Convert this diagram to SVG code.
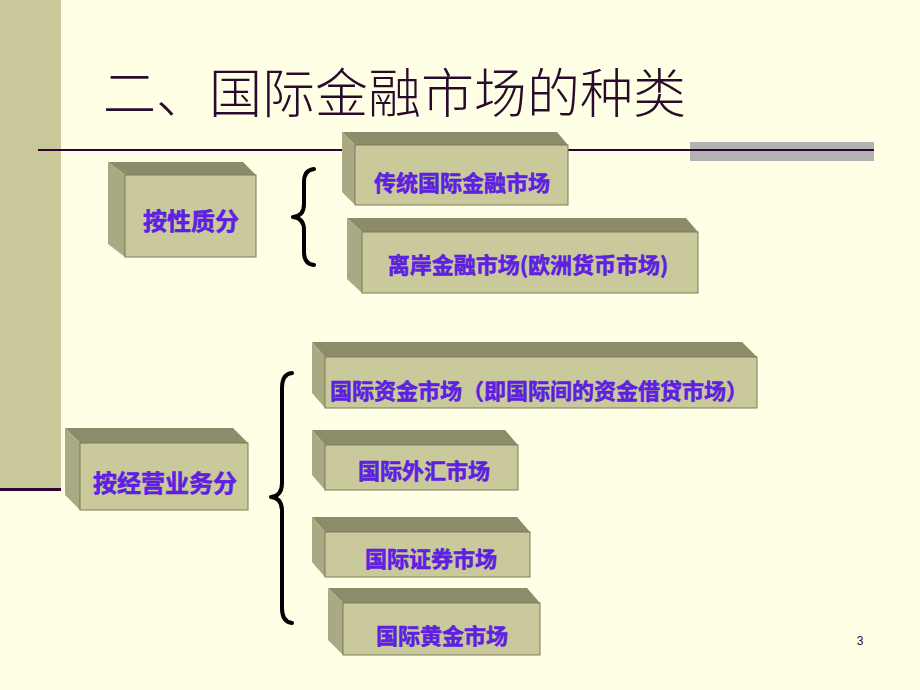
<svg xmlns="http://www.w3.org/2000/svg" width="920" height="690" viewBox="0 0 920 690">
<style>
.top{fill:#8C8C6A}
.side{fill:#A9A983}
.front{fill:#C9C99C;stroke:#7A7A5C;stroke-width:1}
.lbl{font-family:"Noto Sans CJK SC","Noto Sans",sans-serif;font-weight:bold;fill:#6020E8;stroke:#5518D0;stroke-width:0.5;text-anchor:middle;dominant-baseline:central}
.brace{fill:none;stroke:#000;stroke-width:4;stroke-linecap:round;stroke-linejoin:round}
</style>
<rect x="0" y="0" width="920" height="690" fill="#FFFFE6"/>
<rect x="0" y="0" width="61" height="489" fill="#C8C89B"/>
<rect x="0" y="488" width="61" height="3" fill="#330033"/>
<rect x="690" y="142" width="184" height="19" fill="#B2B2B2"/>
<line x1="38" y1="150" x2="874" y2="150" stroke="#330033" stroke-width="2"/>
<text x="103" y="90" font-family="'Noto Sans CJK SC',sans-serif" font-weight="300" font-size="53" fill="#2A0A2A" dominant-baseline="central">二、国际金融市场的种类</text>

<g id="n1">
<polygon class="top" points="108,162 243,162 256,175 125,175"/>
<polygon class="side" points="108,162 125,175 125,257 108,244"/>
<rect class="front" x="125" y="175" width="131" height="82"/>
<text class="lbl" x="191" y="219" font-size="24">按性质分</text>
</g>
<g id="n2">
<polygon class="top" points="342,132 557,132 568,145 355,145"/>
<polygon class="side" points="342,132 355,145 355,205 342,192"/>
<rect class="front" x="355" y="145" width="213" height="60"/>
<text class="lbl" x="462" y="181" font-size="22">传统国际金融市场</text>
</g>
<g id="n3">
<polygon class="top" points="347,218 686,218 698,232 362,232"/>
<polygon class="side" points="347,218 362,232 362,293 347,279"/>
<rect class="front" x="362" y="232" width="336" height="61"/>
<text class="lbl" x="528" y="263" font-size="22">离岸金融市场(欧洲货币市场)</text>
</g>
<g id="n4">
<polygon class="top" points="65,428 233,428 248,443 80,443"/>
<polygon class="side" points="65,428 80,443 80,510 65,495"/>
<rect class="front" x="80" y="443" width="168" height="67"/>
<text class="lbl" x="165" y="481" font-size="24">按经营业务分</text>
</g>
<g id="n5">
<polygon class="top" points="312,342 742,342 757,357 325,357"/>
<polygon class="side" points="312,342 325,357 325,408 312,393"/>
<rect class="front" x="325" y="357" width="432" height="51"/>
<text class="lbl" x="539" y="389" font-size="22">国际资金市场（即国际间的资金借贷市场）</text>
</g>
<g id="n6">
<polygon class="top" points="312,430 505,430 518,445 325,445"/>
<polygon class="side" points="312,430 325,445 325,490 312,475"/>
<rect class="front" x="325" y="445" width="193" height="45"/>
<text class="lbl" x="424" y="469" font-size="22">国际外汇市场</text>
</g>
<g id="n7">
<polygon class="top" points="312,517 517,517 530,532 325,532"/>
<polygon class="side" points="312,517 325,532 325,577 312,562"/>
<rect class="front" x="325" y="532" width="205" height="45"/>
<text class="lbl" x="431" y="557" font-size="22">国际证券市场</text>
</g>
<g id="n8">
<polygon class="top" points="328,588 527,588 540,603 343,603"/>
<polygon class="side" points="328,588 343,603 343,655 328,640"/>
<rect class="front" x="343" y="603" width="197" height="52"/>
<text class="lbl" x="442" y="634" font-size="22">国际黄金市场</text>
</g>

<g id="connectors">
<path class="brace" d="M314,169 Q304,170 304,182 L304,204 Q304,216 293,217 Q304,218 304,230 L304,252 Q304,264 314,265"/>
<path class="brace" d="M292,373 Q282,374 282,388 L282,483 Q282,496 271,497 Q282,498 282,511 L282,608 Q282,622 292,623"/>
</g>

<text x="860" y="641" font-family="'Liberation Sans',Arial,sans-serif" font-size="12" fill="#222" text-anchor="middle" dominant-baseline="central">3</text>
</svg>
